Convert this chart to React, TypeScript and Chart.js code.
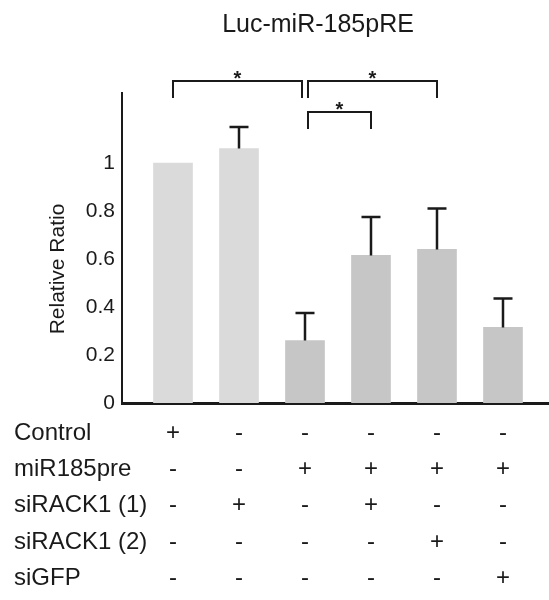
import React, { useEffect, useRef } from "react";
import { Chart, registerables } from "chart.js";

Chart.register(...registerables);

// ---- data ----
const chartTitle = "Luc-miR-185pRE";
const yAxisTitle = "Relative Ratio";
const groupIndex = [0, 1, 2, 3, 4, 5];
const ratioValues = [1.0, 1.06, 0.26, 0.615, 0.64, 0.315];
const ratioErrors = [0, 0.09, 0.115, 0.16, 0.17, 0.12];
const barColors = ["#dadada", "#dadada", "#c6c6c6", "#c6c6c6", "#c6c6c6", "#c6c6c6"];
const yTickValues = [0, 0.2, 0.4, 0.6, 0.8, 1];
const yTickLabels = ["0", "0.2", "0.4", "0.6", "0.8", "1"];
const rowLabels = ["Control", "miR185pre", "siRACK1 (1)", "siRACK1 (2)", "siGFP"];
const controlRow = ["+", "-", "-", "-", "-", "-"];
const mirRow = ["-", "-", "+", "+", "+", "+"];
const siRack1Row = ["-", "+", "-", "+", "-", "-"];
const siRack2Row = ["-", "-", "-", "-", "+", "-"];
const siGfpRow = ["-", "-", "-", "-", "-", "+"];
const sigPairs: [number, number][] = [
  [0, 2],
  [2, 4],
  [2, 3],
];
const sigLevels = [1.342, 1.342, 1.2125];
const sigLabels = ["*", "*", "*"];

const FONT = "'Liberation Sans', Arial, sans-serif";
const INK = "#1a1a1a";

const overlayPlugin = {
  id: "overlay",
  afterDatasetsDraw(chart: any) {
    const ctx = chart.ctx;
    const xs = chart.scales.x;
    const ys = chart.scales.y;
    ctx.save();
    ctx.strokeStyle = INK;
    ctx.lineWidth = 2.5;
    groupIndex.forEach((g, i) => {
      const err = ratioErrors[i];
      if (!err) return;
      const x = xs.getPixelForValue(g);
      const y0 = ys.getPixelForValue(ratioValues[i]);
      const y1 = ys.getPixelForValue(ratioValues[i] + err);
      ctx.beginPath();
      ctx.moveTo(x, y0);
      ctx.lineTo(x, y1);
      ctx.moveTo(x - 9.5, y1);
      ctx.lineTo(x + 9.5, y1);
      ctx.stroke();
    });
    ctx.restore();
  },
  afterDraw(chart: any) {
    const ctx = chart.ctx;
    const xs = chart.scales.x;
    const ys = chart.scales.y;
    ctx.save();
    ctx.fillStyle = INK;
    ctx.strokeStyle = INK;

    // title
    ctx.font = `25px ${FONT}`;
    ctx.textAlign = "center";
    ctx.textBaseline = "middle";
    ctx.fillText(chartTitle, 318, 25);

    // y title
    ctx.save();
    ctx.translate(58, 269);
    ctx.rotate(-Math.PI / 2);
    ctx.font = `21px ${FONT}`;
    ctx.fillText(yAxisTitle, 0, 0);
    ctx.restore();

    // significance brackets
    const gap = 3;
    ctx.lineWidth = 2;
    sigPairs.forEach(([a, b], k) => {
      const left = xs.getPixelForValue(groupIndex[a]) + (sigPairs.some((p) => p[1] === a) ? gap : 0);
      const right = xs.getPixelForValue(groupIndex[b]) - (sigPairs.some((p) => p[0] === b) ? gap : 0);
      const top = ys.getPixelForValue(sigLevels[k]);
      const legBottom = top + 17;
      ctx.beginPath();
      ctx.moveTo(left, legBottom);
      ctx.lineTo(left, top);
      ctx.lineTo(right, top);
      ctx.lineTo(right, legBottom);
      ctx.stroke();
      ctx.font = `bold 20px ${FONT}`;
      ctx.textAlign = "center";
      ctx.textBaseline = "alphabetic";
      const starCenter = top - 7;
      ctx.fillText(sigLabels[k], (left + right) / 2, starCenter + 0.57 * 20);
    });

    // condition table
    const rows = [controlRow, mirRow, siRack1Row, siRack2Row, siGfpRow];
    ctx.font = `24px ${FONT}`;
    ctx.textBaseline = "middle";
    rows.forEach((row, r) => {
      const y = 433 + r * 36.3;
      ctx.textAlign = "left";
      ctx.fillText(rowLabels[r], 14, y);
      ctx.textAlign = "center";
      row.forEach((sym, i) => {
        ctx.fillText(sym, xs.getPixelForValue(groupIndex[i]), y);
      });
    });
    ctx.restore();
  },
};

export default function App() {
  const canvasRef = useRef<HTMLCanvasElement | null>(null);

  useEffect(() => {
    const canvas = canvasRef.current;
    if (!canvas) return;
    const chart = new Chart(canvas, {
      type: "bar",
      data: {
        datasets: [
          {
            data: groupIndex.map((g, i) => ({ x: g, y: ratioValues[i] })),
            backgroundColor: barColors,
            borderWidth: 0,
            barThickness: 39,
          },
        ],
      },
      options: {
        responsive: false,
        animation: false,
        layout: { padding: { top: 93, left: 0, right: 0, bottom: 0 } },
        plugins: {
          legend: { display: false },
          tooltip: { enabled: false },
          title: { display: false },
        },
        scales: {
          x: {
            type: "linear",
            offset: false,
            min: -0.7727,
            max: 5.697,
            grid: { display: false, drawTicks: false, offset: false },
            border: { display: true, color: INK, width: 3 },
            ticks: { display: false },
            afterFit: (scale: any) => {
              scale.height = 600 - 403;
            },
          },
          y: {
            type: "linear",
            min: 0,
            max: 1.2917,
            grid: { display: false, drawTicks: false },
            border: { display: true, color: INK, width: 2 },
            afterBuildTicks: (scale: any) => {
              scale.ticks = yTickValues.map((v) => ({ value: v }));
            },
            ticks: {
              padding: 7,
              color: INK,
              font: { family: FONT, size: 21 },
              callback: (v: any) => {
                const idx = yTickValues.findIndex((t) => Math.abs(t - Number(v)) < 1e-6);
                return idx >= 0 ? yTickLabels[idx] : "";
              },
            },
            afterFit: (scale: any) => {
              scale.width = 122;
            },
          },
        },
      },
      plugins: [overlayPlugin],
    });
    return () => chart.destroy();
  }, []);

  return (
    <div
      style={{
        position: "fixed",
        left: 0,
        top: 0,
        width: 549,
        height: 600,
        background: "#ffffff",
      }}
    >
      <canvas ref={canvasRef} width={549} height={600} style={{ display: "block" }} />
    </div>
  );
}
